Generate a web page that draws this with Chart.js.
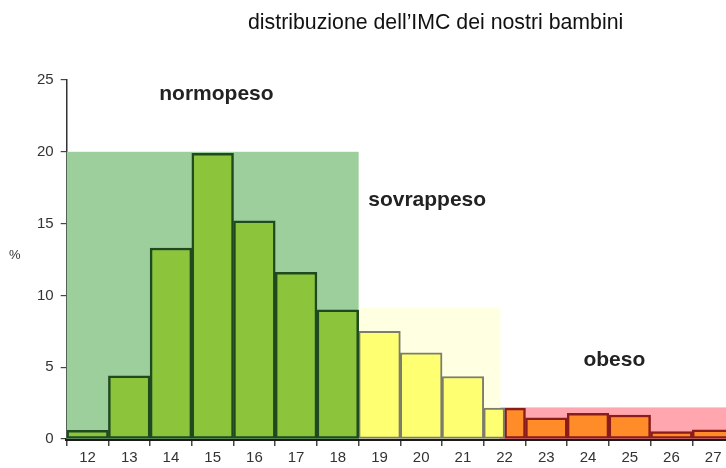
<!DOCTYPE html>
<html>
<head>
<meta charset="utf-8">
<script src="https://cdn.jsdelivr.net/npm/chart.js@4/dist/chart.umd.min.js"></script>
<style>
  html, body { margin: 0; padding: 0; background: #fff; overflow: hidden; }
  #wrap { width: 726px; height: 468px; overflow: hidden; }
</style>
</head>
<body>
<div id="wrap"><canvas id="chart" width="734" height="468"></canvas></div>
<script>
// BMI classes (IMC), percent of children
const categories = ['12','13','14','15','16','17','18','19','20','21','22','23','24','25','26','27'];
const normopeso  = [0.6, 4.4, 13.3, 19.9, 15.2, 11.6, 9.0, null, null, null, null, null, null, null, null, null];
const sovrappeso = [null, null, null, null, null, null, null, 7.5, 6.0, 4.35, 2.15, null, null, null, null, null];
const obeso      = [null, null, null, null, null, null, null, null, null, null, 2.15, 1.48, 1.79, 1.67, 0.51, 0.63];
const yTicks = [0, 5, 10, 15, 20, 25];

// shaded zones behind the bars: [from index, to index, height]
const zoneFrom   = [-0.5, 6.5, 9.9];
const zoneTo     = [6.5, 9.9, 15.5];
const zoneHeight = [20, 9.15, 2.2];
const zoneNames  = ['normopeso', 'sovrappeso', 'obeso'];

const title = 'distribuzione dell\u2019IMC dei nostri bambini';

const zoneFill = ['#9ccf9c', '#ffffe2', '#ffa6ae'];
const labelPos = [[1.72, 23.6], [6.73, 16.2], [11.89, 5.08]];

const zonesPlugin = {
    id: 'zones',
    beforeDatasetsDraw(chart) {
        const { ctx, scales: { x, y } } = chart;
        ctx.save();
        zoneFrom.forEach((from, i) => {
            const left = x.getPixelForValue(from);
            const right = x.getPixelForValue(zoneTo[i]);
            const top = y.getPixelForValue(zoneHeight[i]);
            ctx.fillStyle = zoneFill[i];
            ctx.fillRect(left, top, right - left, y.getPixelForValue(0) - top);
        });
        ctx.restore();
    },
    afterDraw(chart) {
        const { ctx, scales: { x, y } } = chart;
        ctx.save();
        ctx.fillStyle = '#222';
        ctx.textBaseline = 'alphabetic';
        ctx.font = 'bold 21px "Liberation Sans", Arial, sans-serif';
        zoneNames.forEach((name, i) => {
            ctx.fillText(name, x.getPixelForValue(labelPos[i][0]), y.getPixelForValue(labelPos[i][1]));
        });
        ctx.font = '21.3px "Liberation Sans", Arial, sans-serif';
        ctx.fillStyle = '#111';
        ctx.fillText(title, 248, 29);
        ctx.font = '13px "Liberation Sans", Arial, sans-serif';
        ctx.fillStyle = '#333';
        ctx.fillText('%', 9, 259);
        ctx.restore();
    }
};

const ctx = document.getElementById('chart').getContext('2d');
new Chart(ctx, {
    type: 'bar',
    data: {
        labels: categories,
        datasets: [
            {
                label: 'normopeso',
                data: normopeso,
                backgroundColor: '#8cc43c',
                borderColor: '#1f4a1f',
                borderWidth: 2.5
            },
            {
                label: 'sovrappeso',
                data: sovrappeso,
                backgroundColor: '#ffff72',
                borderColor: '#7d7d6c',
                borderWidth: 2
            },
            {
                label: 'obeso',
                data: obeso,
                backgroundColor: '#ff8c28',
                borderColor: '#8a1c1c',
                borderWidth: 2.5
            }
        ]
    },
    options: {
        responsive: false,
        animation: false,
        layout: { padding: { top: 80, left: 0, right: 0, bottom: 0 } },
        datasets: {
            bar: {
                skipNull: true,
                barPercentage: 1,
                categoryPercentage: 1,
                borderSkipped: false
            }
        },
        plugins: {
            legend: { display: false },
            title: { display: false },
            tooltip: { enabled: false }
        },
        scales: {
            x: {
                offset: true,
                grid: {
                    display: true,
                    offset: true,
                    drawOnChartArea: false,
                    tickLength: 7,
                    color: '#444',
                    lineWidth: 1.5
                },
                border: { display: true, color: '#1a1a1a', width: 3 },
                ticks: {
                    color: '#333',
                    font: { family: '"Liberation Sans", Arial, sans-serif', size: 15 },
                    padding: 3,
                    maxRotation: 0
                },
                afterFit(scale) { scale.height = 29; }
            },
            y: {
                min: 0,
                max: 25,
                afterBuildTicks(scale) { scale.ticks = yTicks.map(v => ({ value: v })); },
                grid: {
                    display: true,
                    drawOnChartArea: false,
                    tickLength: 6,
                    color: '#444',
                    lineWidth: 1.2
                },
                border: { display: true, color: '#333', width: 1.5 },
                ticks: {
                    color: '#333',
                    font: { family: '"Liberation Sans", Arial, sans-serif', size: 15 },
                    padding: 7
                },
                afterFit(scale) { scale.width = 66.7; }
            }
        }
    },
    plugins: [zonesPlugin]
});
</script>
</body>
</html>
